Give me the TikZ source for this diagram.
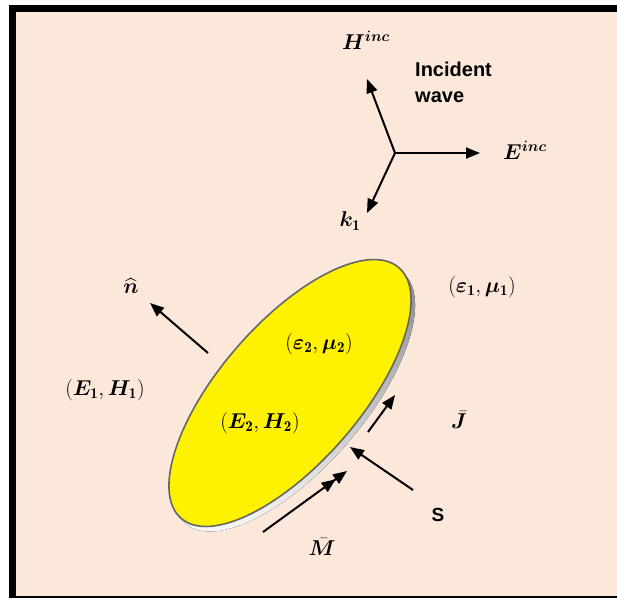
\RequirePackage{fix-cm}
\documentclass[tikz,border=0pt]{standalone}
\usepackage{amsmath,bm}
\usepackage{fontspec}
\setsansfont{Liberation Sans}
\usetikzlibrary{arrows.meta}
\definecolor{bg}{HTML}{FCE8DA}
\definecolor{rim}{HTML}{666666}
\definecolor{shade}{HTML}{A0A0A0}
\tikzset{
  vec/.style={line width=2pt,-{Triangle[length=14pt,width=11pt]}},
  dvec/.style={line width=2pt,-{Triangle[length=14pt,width=11pt]Triangle[length=14pt,width=11pt]}},
  lab/.style={inner sep=0pt,font=\fontsize{21.5}{24}\selectfont},
  txt/.style={inner sep=0pt,font=\sffamily\bfseries\fontsize{20}{26}\selectfont},
}
\begin{document}
\begin{tikzpicture}[x=1pt,y=-1pt]
\useasboundingbox (0,0) rectangle (617,598);
% frame
\fill[bg] (12,8) rectangle (640,597);
\draw[black,line width=7pt] (12.5,598) -- (12.5,8.5) -- (640,8.5);
\draw[black,line width=2pt] (12,597) -- (640,597);
% body
\fill[shade,rotate around={49:(294,398)}] (294,398) ellipse [x radius=166,y radius=70];
\draw[rim,line width=1.6pt,fill=yellow,rotate around={49:(290,393)}] (290,393) ellipse [x radius=166,y radius=70];
% incident wave
\coordinate (o) at (395,153);
\coordinate (ht) at (367,79);
\coordinate (et) at (480,153);
\coordinate (kt) at (367,213);
\draw[vec] (o) -- (ht);
\draw[vec] (o) -- (et);
\draw[vec] (o) -- (kt);
\node[lab] (H) at (366,40) {$\boldsymbol{H}^{\boldsymbol{inc}}$};
\node[lab] (E) at (525,150) {$\boldsymbol{E}^{\boldsymbol{inc}}$};
\node[lab] (k) at (350,221) {$\boldsymbol{k}_{\mathbf{1}}$};
\node[txt,align=left,anchor=north west] (iw) at (415,62) {Incident\\wave};
% normal
\coordinate (ns) at (208,353);
\coordinate (nt) at (150,303);
\draw[vec] (ns) -- (nt);
\node[lab] (n) at (131,286) {$\widehat{\boldsymbol{n}}$};
% labels
\node[lab] (EH1) at (105,390) {$(\boldsymbol{E}_{\mathbf{1}},\boldsymbol{H}_{\mathbf{1}})$};
\node[lab] (em1) at (482,287) {$(\boldsymbol{\varepsilon}_{\mathbf{1}},\boldsymbol{\mu}_{\mathbf{1}})$};
\node[lab] (em2) at (319,344) {$(\boldsymbol{\varepsilon}_{\mathbf{2}},\boldsymbol{\mu}_{\mathbf{2}})$};
\node[lab] (EH2) at (260,423) {$(\boldsymbol{E}_{\mathbf{2}},\boldsymbol{H}_{\mathbf{2}})$};
\node[lab] (J) at (459,420) {$\bar{\boldsymbol{J}}$};
\node[lab] (M) at (322,547) {$\bar{\boldsymbol{M}}$};
\node[inner sep=0pt,font=\sffamily\bfseries\fontsize{19}{21}\selectfont] (S) at (438,515) {S};
% surface arrows
\coordinate (js) at (368,432);
\coordinate (jt) at (395,395);
\draw[vec] (js) -- (jt);
\coordinate (ss) at (413,490);
\coordinate (st) at (350,447);
\draw[vec] (ss) -- (st);
\coordinate (ms) at (263,532);
\coordinate (mt) at (347,471);
\draw[dvec] (ms) -- (mt);
\end{tikzpicture}
\end{document}
